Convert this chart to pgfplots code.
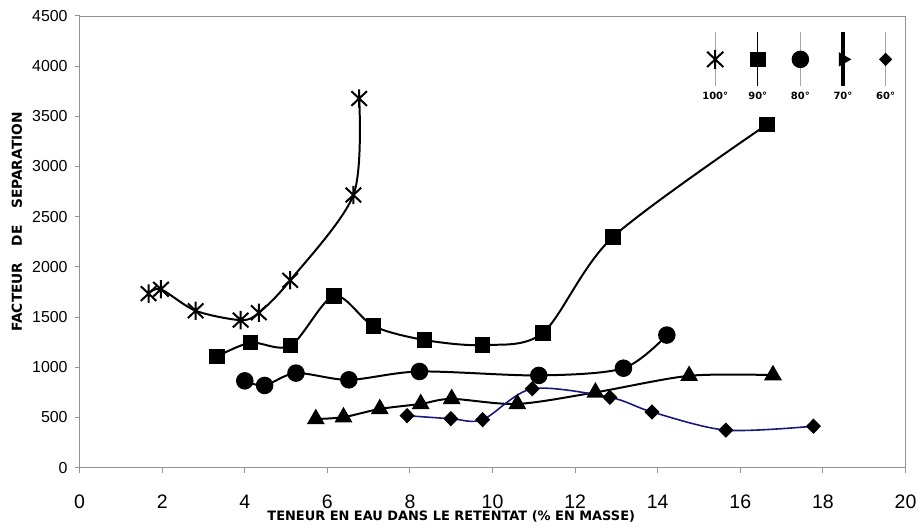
\documentclass[border=0pt]{standalone}
\usepackage{fontspec}
\setmainfont{Liberation Sans}
\newfontfamily\labfont{DejaVu Sans}
\usepackage{pgfplots}
\pgfplotsset{compat=1.18}
\definecolor{navyline}{RGB}{25,25,125}
\newcommand{\legfont}{\labfont\bfseries\fontsize{5}{6}\selectfont}
\newcommand{\axlabfont}{\labfont\bfseries\fontsize{6.5}{8}\selectfont}
\newcommand{\aylabfont}{\labfont\bfseries\fontsize{6.9}{8}\selectfont}
\pgfdeclareplotmark{xast}{%
  \pgfpathmoveto{\pgfqpoint{0pt}{\pgfplotmarksize}}%
  \pgfpathlineto{\pgfqpoint{0pt}{-\pgfplotmarksize}}%
  \pgfpathmoveto{\pgfqpoint{-.85\pgfplotmarksize}{.8\pgfplotmarksize}}%
  \pgfpathlineto{\pgfqpoint{.85\pgfplotmarksize}{-.8\pgfplotmarksize}}%
  \pgfpathmoveto{\pgfqpoint{-.85\pgfplotmarksize}{-.8\pgfplotmarksize}}%
  \pgfpathlineto{\pgfqpoint{.85\pgfplotmarksize}{.8\pgfplotmarksize}}%
  \pgfusepathqstroke}
\begin{document}
\begin{tikzpicture}
\begin{axis}[
  scale only axis, width=415pt, height=227pt,
  xmin=0, xmax=20, ymin=0, ymax=4500,
  xtick={0,2,...,20}, ytick={0,500,...,4500},
  tick align=outside, xtick pos=bottom, ytick pos=left,
  major tick length=2.5pt,
  axis line style={gray!85}, every tick/.style={gray!85, line width=0.5pt},
  /pgf/number format/assume math mode=true,
  /pgf/number format/1000 sep={},
  xticklabel style={font=\fontsize{9.8}{11}\selectfont, anchor=center, yshift=-14.5pt},
  yticklabel style={font=\fontsize{8}{9}\selectfont},
  xlabel={TENEUR EN EAU DANS LE RETENTAT (\% EN MASSE)},
  ylabel={FACTEUR\hspace{1.2em}DE\hspace{1.2em}SEPARATION},
  every axis x label/.style={at={(axis description cs:0.45,0)}, anchor=center, yshift=-24.5pt, font=\axlabfont},
  every axis y label/.style={at={(axis description cs:-0.0759,0.544)}, rotate=90, anchor=center, font=\aylabfont},
  legend columns=5,
  legend style={at={(axis description cs:0.745,0.969)}, anchor=north west, draw=none, fill=none,
    inner sep=0pt, outer sep=0pt, column sep=0pt, row sep=0pt, nodes={inner sep=0pt}},
]
% 100 deg
\addplot[black, line width=1pt, smooth, mark=xast, mark size=4.6pt,
  legend image code/.code={
    \draw[gray!70, line width=0.7pt] (0pt,-13.5pt) -- (0pt,14pt);
    \draw[black, sharp plot, line width=1pt, mark=xast, mark size=4.8pt] plot coordinates {(0pt,0pt)};
    \node[font=\legfont, inner sep=0pt, minimum width=20.4pt, anchor=center, black] at (0pt,-19pt) {100°};
  }]
  coordinates {(1.67,1734)(1.97,1777)(2.81,1563)(3.90,1470)(4.34,1543)(5.10,1866)(6.63,2716)(6.77,3677)};
\addlegendentry{\relax}
% 90 deg
\addplot[black, line width=1pt, smooth, mark=square*, mark size=3.4pt, mark options={fill=black},
  legend image code/.code={
    \draw[black, line width=0.5pt] (0pt,-13.5pt) -- (0pt,14pt);
    \draw[black, sharp plot, line width=1pt, mark=square*, mark size=3.4pt, mark options={fill=black}] plot coordinates {(0pt,0pt)};
    \node[font=\legfont, inner sep=0pt, minimum width=20.4pt, anchor=center, black] at (0pt,-19pt) {90°};
  }]
  coordinates {(3.33,1107)(4.14,1245)(5.11,1215)(6.16,1712)(7.12,1410)(8.35,1272)(9.76,1222)(11.22,1344)(12.91,2296)(16.64,3417)};
\addlegendentry{\relax}
% 80 deg
\addplot[black, line width=1pt, smooth, mark=*, mark size=3.9pt, mark options={fill=black},
  legend image code/.code={
    \draw[gray!70, line width=0.8pt] (0pt,-13.5pt) -- (0pt,14pt);
    \draw[black, sharp plot, line width=1pt, mark=*, mark size=3.9pt, mark options={fill=black}] plot coordinates {(0pt,0pt)};
    \node[font=\legfont, inner sep=0pt, minimum width=20.4pt, anchor=center, black] at (0pt,-19pt) {80°};
  }]
  coordinates {(4.00,865)(4.48,819)(5.24,942)(6.52,875)(8.23,958)(11.12,919)(13.17,991)(14.22,1321)};
\addlegendentry{\relax}
% 70 deg
\addplot[black, line width=1pt, smooth, mark=triangle*, mark size=4.2pt, mark options={fill=black},
  legend image code/.code={
    \draw[black, line width=1.6pt] (0pt,-13.5pt) -- (0pt,14pt);
    \draw[black, sharp plot, line width=0.8pt, mark=triangle*, mark size=3.4pt, mark options={fill=black, rotate=-90}] plot coordinates {(0pt,0pt)};
    \node[font=\legfont, inner sep=0pt, minimum width=20.4pt, anchor=center, black] at (0pt,-19pt) {70°};
  }]
  coordinates {(5.72,485)(6.39,503)(7.27,585)(8.26,635)(9.01,685)(10.60,635)(12.49,750)(14.76,915)(16.79,922)};
\addlegendentry{\relax}
% 60 deg
\addplot[navyline, line width=0.8pt, smooth, mark=diamond*, mark size=3.3pt, mark options={black, fill=black, xscale=1.3},
  legend image code/.code={
    \draw[gray!70, line width=0.7pt] (0pt,-13.5pt) -- (0pt,14pt);
    \draw[black, sharp plot, line width=0.8pt, mark=diamond*, mark size=2.8pt, mark options={black, fill=black, xscale=1.3}] plot coordinates {(0pt,0pt)};
    \node[font=\legfont, inner sep=0pt, minimum width=20.4pt, anchor=center, black] at (0pt,-19pt) {60°};
  }]
  coordinates {(7.93,518)(8.99,488)(9.76,478)(10.96,786)(12.84,701)(13.86,555)(15.65,374)(17.77,413)};
\addlegendentry{\relax}
\end{axis}
\path ([shift={(-40pt,-31.5pt)}]current axis.south west) rectangle ([shift={(6.5pt,8pt)}]current axis.north east);
\end{tikzpicture}
\end{document}
